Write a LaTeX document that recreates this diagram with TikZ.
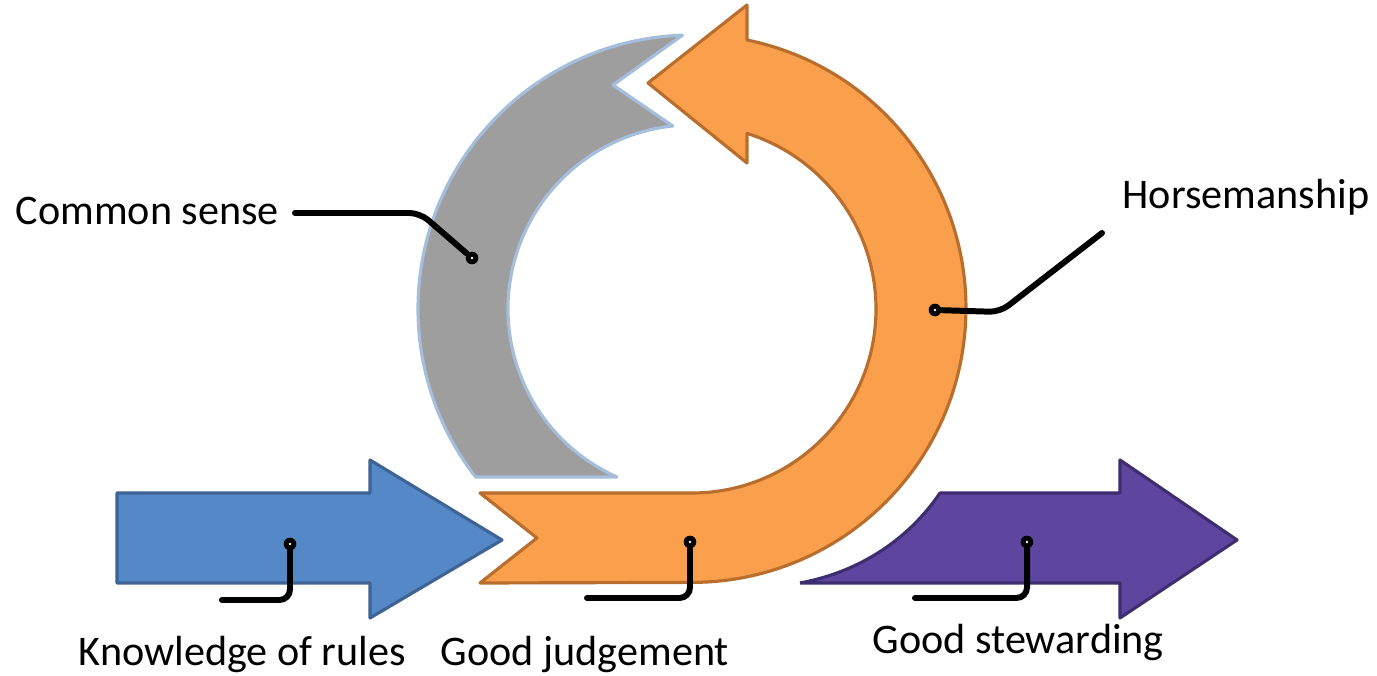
\documentclass[tikz,border=0pt]{standalone}
\usepackage{fontspec}
\setmainfont{Carlito}
\usetikzlibrary{positioning}

\definecolor{rulesblue}{RGB}{84,136,199}
\definecolor{rulesedge}{RGB}{62,100,150}
\definecolor{judgeorange}{RGB}{250,160,76}
\definecolor{judgeedge}{RGB}{185,110,45}
\definecolor{sensegray}{RGB}{158,158,158}
\definecolor{senseedge}{RGB}{165,190,220}
\definecolor{stewpurple}{RGB}{94,70,160}
\definecolor{stewedge}{RGB}{62,46,112}

\begin{document}
\begin{tikzpicture}[
    arrowbody/.style={line width=0.9pt, line join=round},
    leader/.style={line width=1.7pt, line cap=round, rounded corners=3pt},
    leaderdot/.style={circle, fill=black, inner sep=0pt, minimum size=3.6pt,
        path picture={\fill[white] (path picture bounding box.center) circle (0.4pt);}},
    textlabel/.style={font=\fontsize{12}{14}\selectfont, inner sep=0pt, anchor=base west}
]
\useasboundingbox (0,0) rectangle (13.77,6.75);

% grey arc
\draw[arrowbody, fill=sensegray, draw=senseedge] ([shift={(92:2.74)}]6.92,3.66) arc[start angle=92, end angle=217.8, radius=2.74] -- ([shift={(245.9:1.84)}]6.92,3.66) arc[start angle=245.9, end angle=96, radius=1.84] -- (6.13,5.90) -- cycle;

% orange loop
\draw[arrowbody, fill=judgeorange, draw=judgeedge] (7.47,6.35) arc[start angle=78.4, end angle=-90, radius=2.74] -- (4.80,0.92) -- (5.37,1.37) -- (4.80,1.82) -- (6.92,1.82) arc[start angle=-90, end angle=72.6, radius=1.84] -- (7.47,5.12) -- (6.48,5.92) -- (7.47,6.70) -- cycle;

% blue and purple arrows
\draw[arrowbody, fill=rulesblue, draw=rulesedge] (1.17,0.92) -- (3.70,0.92) -- (3.70,0.57) -- (5.02,1.35) -- (3.70,2.15) -- (3.70,1.82) -- (1.17,1.82) -- cycle;
\draw[arrowbody, fill=stewpurple, draw=stewedge] (8.00,0.92) -- (11.20,0.92) -- (11.20,0.57) -- (12.37,1.35) -- (11.20,2.15) -- (11.20,1.82) -- (9.40,1.82) .. controls (9.15,1.45) and (8.70,1.05) .. (8.00,0.92);

\node[textlabel] (sense) at (0.15,4.50) {Common sense};
\node[textlabel] (horse) at (11.22,4.66) {Horsemanship};
\node[textlabel] (rules) at (0.78,0.10) {Knowledge of rules};
\node[textlabel] (judge) at (4.40,0.10) {Good judgement};
\node[textlabel] (steward) at (8.72,0.22) {Good stewarding};

\coordinate (senseend) at (2.95,4.62);
\coordinate (horseend) at (11.02,4.42);
\coordinate (rulesend) at (2.22,0.75);
\coordinate (judgeend) at (5.87,0.77);
\coordinate (stewardend) at (9.15,0.77);

\node[leaderdot] (sensedot) at (4.72,4.17) {};
\node[leaderdot] (horsedot) at (9.35,3.65) {};
\node[leaderdot] (rulesdot) at (2.90,1.31) {};
\node[leaderdot] (judgedot) at (6.90,1.33) {};
\node[leaderdot] (stewarddot) at (10.27,1.33) {};

\draw[leader] (senseend) -- ++(1.25,0) -- (sensedot);
\draw[leader] (horseend) -- ++(-1.02,-0.79) -- (horsedot);
\draw[leader] (rulesend) -| (rulesdot);
\draw[leader] (judgeend) -| (judgedot);
\draw[leader] (stewardend) -| (stewarddot);

\end{tikzpicture}
\end{document}
